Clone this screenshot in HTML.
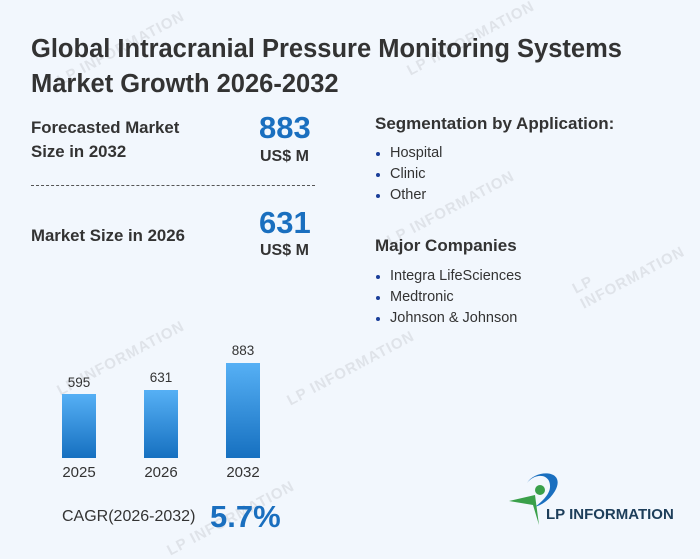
<!DOCTYPE html>
<html><head><style>
body{margin:0;width:700px;height:553px;background:#f2f7fd;font-family:"Liberation Sans","DejaVu Sans",sans-serif;position:relative;overflow:hidden;color:#222}
.a{position:absolute;white-space:nowrap}
.t{font-weight:bold;font-size:25.5px;color:#333;line-height:35px}
.l{font-weight:bold;font-size:16.8px;color:#333;line-height:24px}
.big{font-weight:bold;font-size:31px;color:#1a6fbf}
.u{font-weight:bold;font-size:16px;color:#333}
.h{font-weight:bold;font-size:17px;color:#333}
.li{font-size:14.5px;color:#333}
.d{position:absolute;width:4px;height:4px;background:#1a3f9a;border-radius:50%}
.bar{position:absolute;width:34px;background:linear-gradient(#56b0f5,#1670c0)}
.n{font-size:13.5px;color:#333;text-align:center;width:60px}
.y{font-size:15px;color:#333;text-align:center;width:60px}
.w{position:absolute;color:#dfe3e9;font-size:15px;font-weight:bold;transform:rotate(-28deg);letter-spacing:1px}
</style></head><body>
<div class="w" style="left:50px;top:40px">LP INFORMATION</div>
<div class="w" style="left:400px;top:30px">LP INFORMATION</div>
<div class="w" style="left:380px;top:200px">LP INFORMATION</div>
<div class="w" style="left:570px;top:250px">LP INFORMATION</div>
<div class="w" style="left:50px;top:350px">LP INFORMATION</div>
<div class="w" style="left:280px;top:360px">LP INFORMATION</div>
<div class="w" style="left:160px;top:510px">LP INFORMATION</div>
<div class="a t" style="left:31px;top:32px">Global Intracranial Pressure Monitoring Systems<br>Market Growth 2026-2032</div>
<div class="a l" style="left:31px;top:116px">Forecasted Market<br>Size in 2032</div>
<div class="a big" style="left:259px;top:110px">883</div>
<div class="a u" style="left:260px;top:148px">US$ M</div>
<div style="position:absolute;left:31px;top:185px;width:284px;border-top:1px dashed #555"></div>
<div class="a l" style="left:31px;top:224px">Market Size in 2026</div>
<div class="a big" style="left:259px;top:205px">631</div>
<div class="a u" style="left:260px;top:242px">US$ M</div>
<div class="a h" style="left:375px;top:114px">Segmentation by Application:</div>
<div class="d" style="left:376px;top:152px"></div><div class="a li" style="left:390px;top:145px">Hospital</div>
<div class="d" style="left:376px;top:173px"></div><div class="a li" style="left:390px;top:166px">Clinic</div>
<div class="d" style="left:376px;top:194px"></div><div class="a li" style="left:390px;top:187px">Other</div>
<div class="a h" style="left:375px;top:236px">Major Companies</div>
<div class="d" style="left:376px;top:275px"></div><div class="a li" style="left:390px;top:268px">Integra LifeSciences</div>
<div class="d" style="left:376px;top:296px"></div><div class="a li" style="left:390px;top:289px">Medtronic</div>
<div class="d" style="left:376px;top:317px"></div><div class="a li" style="left:390px;top:310px">Johnson &amp; Johnson</div>
<div class="bar" style="left:62px;top:394px;height:64px"></div>
<div class="bar" style="left:144px;top:390px;height:68px"></div>
<div class="bar" style="left:226px;top:363px;height:95px"></div>
<div class="a n" style="left:49px;top:375px">595</div>
<div class="a n" style="left:131px;top:370px">631</div>
<div class="a n" style="left:213px;top:343px">883</div>
<div class="a y" style="left:49px;top:464px">2025</div>
<div class="a y" style="left:131px;top:464px">2026</div>
<div class="a y" style="left:213px;top:464px">2032</div>
<div class="a" style="left:62px;top:508px;font-size:16px;color:#333">CAGR(2026-2032)</div>
<div class="a" style="left:210px;top:499px;font-size:31px;font-weight:bold;color:#1a6fbf">5.7%</div>
<svg class="a" style="left:505px;top:465px" width="60" height="62" viewBox="0 0 60 62">
<path d="M22 18 C30 4,62 4,50 26 C44 36,36 40,30 42 C40 34,48 26,44 16 C40 8,28 10,22 18Z" fill="#1a6fbf"/>
<circle cx="35" cy="25" r="5" fill="#3aa04a"/>
<path d="M4 36 L30 30 L34 60 L28 40Z" fill="#3aa04a"/>
</svg>
<div class="a" style="left:546px;top:506px;font-size:15px;font-weight:bold;color:#1d3e5a">LP INFORMATION</div>
</body></html>
